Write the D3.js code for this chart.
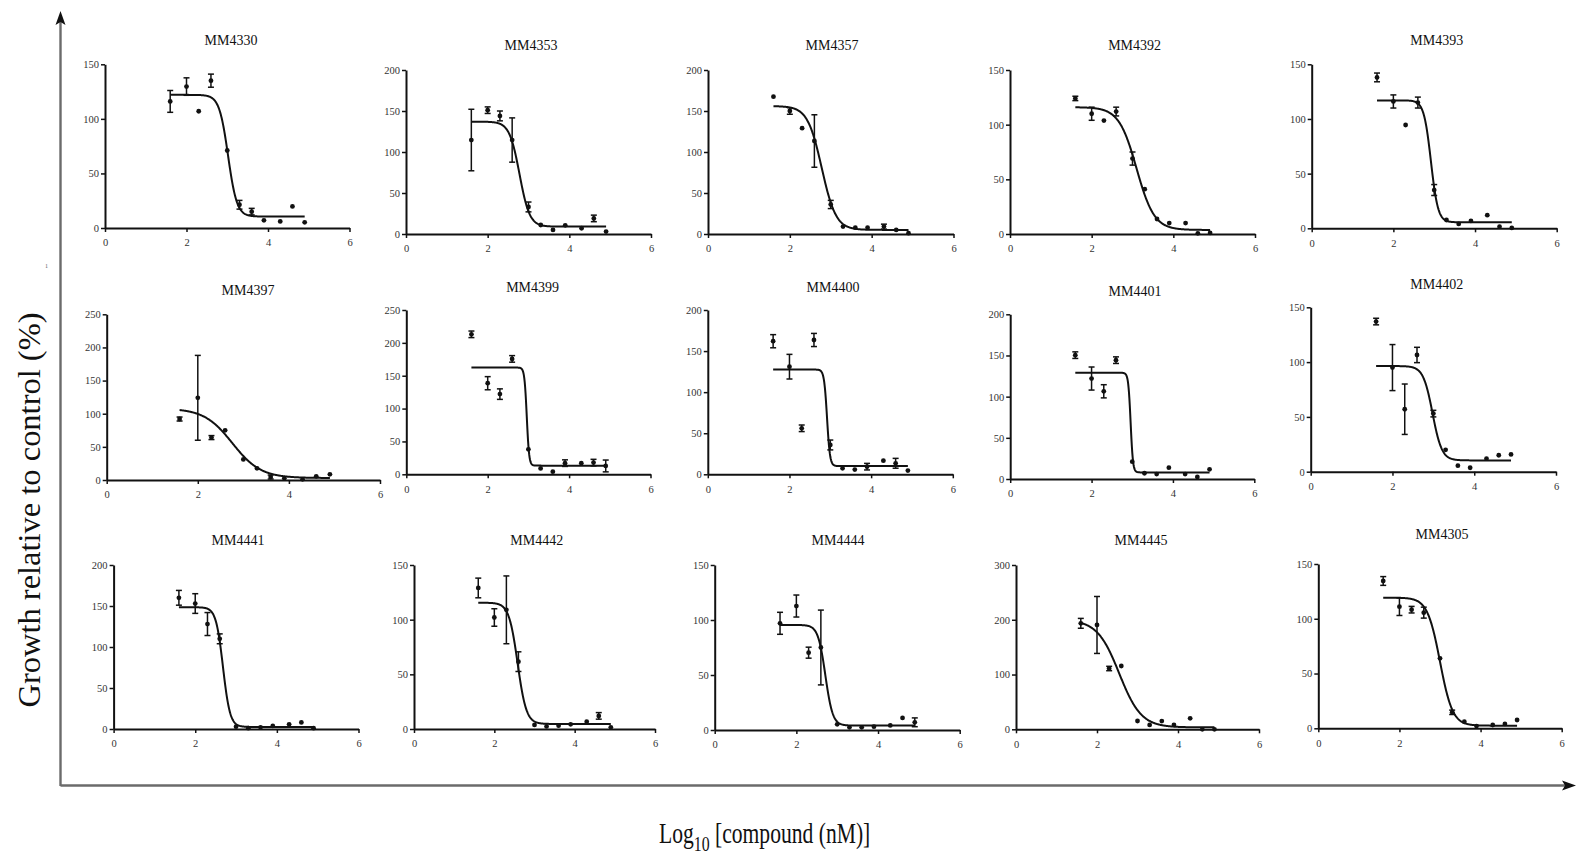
<!DOCTYPE html>
<html>
<head>
<meta charset="utf-8">
<script src="https://cdn.jsdelivr.net/npm/d3@7"></script>
<style>
  body { margin: 0; background: #fff; }
  svg { display: block; }
  text { font-family: "Liberation Serif", "Times New Roman", serif; }
</style>
</head>
<body>
<svg id="chart" width="1577" height="858"></svg>
<script>
// log10 of compound concentration (nM)
const doses = [1.6, 2.0, 2.3, 2.6, 3.0, 3.3, 3.6, 3.9, 4.3, 4.6, 4.9];
const xTicks = [0, 2, 4, 6];

const cellLines = ["MM4330", "MM4353", "MM4357", "MM4392", "MM4393",
                   "MM4397", "MM4399", "MM4400", "MM4401", "MM4402",
                   "MM4441", "MM4442", "MM4444", "MM4445", "MM4305"];

// growth relative to control (%), mean and error per dose
const MM4330 = [116, 129.6, 107, 135, 71, 21.3, 15, 7, 6, 19.8, 5.2];
const MM4330_err = [10, 8, 0, 6, 0, 4, 3, 0, 0, 0, 0];
const MM4353 = [114.6, 151, 144, 114.6, 33, 11, 5, 10.6, 7, 19, 3];
const MM4353_err = [37.5, 4, 6, 27, 6, 0, 0, 0, 0, 4, 0];
const MM4357 = [167.5, 150, 129, 113.4, 36, 9, 7.7, 7.7, 9, 5, 1];
const MM4357_err = [0, 4, 0, 32, 5, 0, 0, 0, 3, 0, 0];
const MM4392 = [124, 110, 103.7, 112, 69, 41, 13.7, 10, 10, 0.6, 1];
const MM4392_err = [2, 6, 0, 4, 6, 0, 0, 0, 0, 0, 0];
const MM4393 = [138, 116, 94.5, 115, 35, 7.6, 4, 6.7, 12, 1.5, 0.3];
const MM4393_err = [4, 6, 0, 5, 5, 0, 0, 0, 0, 0, 0];
const MM4397 = [92, 124, 64, 75, 31, 17.6, 4.5, 2.5, 1, 5.5, 8.5];
const MM4397_err = [3, 64, 3, 0, 0, 0, 3, 0, 0, 0, 0];
const MM4399 = [213, 138.6, 122, 175.6, 38, 9, 4, 17, 16.8, 17.8, 12.7];
const MM4399_err = [5, 10, 8, 5, 0, 0, 0, 5, 0, 5, 9];
const MM4400 = [162, 131, 56, 163.5, 35.7, 7.3, 5.7, 9.3, 16.6, 13.4, 4.5];
const MM4400_err = [8, 15, 4, 8, 6, 0, 0, 4, 0, 6, 0];
const MM4401 = [150.4, 122, 106.5, 144.3, 21, 7, 6, 13.8, 6, 2.4, 11.8];
const MM4401_err = [4, 14, 8, 4, 0, 0, 0, 0, 0, 0, 0];
const MM4402 = [137, 95, 57, 106.5, 53, 20, 5.5, 3.6, 11.9, 15, 15.8];
const MM4402_err = [3, 21, 23, 7, 3, 0, 0, 0, 0, 0, 0];
const MM4441 = [160, 153, 128, 110, 2.8, 1, 2, 3.7, 5.7, 8, 1];
const MM4441_err = [9, 12, 14, 6, 0, 0, 0, 0, 0, 0, 0];
const MM4442 = [129, 102, 109, 61.6, 3.7, 2.4, 3, 4.3, 6.7, 12, 1.5];
const MM4442_err = [9, 8, 31, 9, 0, 0, 0, 0, 0, 3, 0];
const MM4444 = [97, 112.7, 70.3, 75, 5.2, 2.4, 2.4, 3, 4.2, 11, 7];
const MM4444_err = [10, 10, 5, 34, 0, 0, 0, 0, 0, 0, 4];
const MM4445 = [193.5, 190.5, 111, 115.6, 15.2, 8, 15, 8, 20, 0, 0];
const MM4445_err = [9, 52, 4, 0, 0, 0, 0, 0, 0, 0, 0];
const MM4305 = [134.5, 111, 108.3, 105.6, 63.9, 14.6, 6, 2, 3, 4, 7.6];
const MM4305_err = [4, 8, 3, 5, 0, 2, 0, 0, 0, 0, 0];

const meanSeries = [MM4330, MM4353, MM4357, MM4392, MM4393, MM4397, MM4399, MM4400,
                    MM4401, MM4402, MM4441, MM4442, MM4444, MM4445, MM4305];
const errSeries = [MM4330_err, MM4353_err, MM4357_err, MM4392_err, MM4393_err,
                   MM4397_err, MM4399_err, MM4400_err, MM4401_err, MM4402_err,
                   MM4441_err, MM4442_err, MM4444_err, MM4445_err, MM4305_err];

// y axis extent and tick step per cell line
const yMax  = [150, 200, 200, 150, 150, 250, 250, 200, 200, 150, 200, 150, 150, 300, 150];
const yStep = [50, 50, 50, 50, 50, 50, 50, 50, 50, 50, 50, 50, 50, 100, 50];

// four-parameter logistic fit per cell line
const fitTop     = [122, 137, 156, 116, 117, 108, 162.4, 127.5, 129, 96.4, 148.5, 115.5, 95.5, 200, 119.3];
const fitBottom  = [10.5, 9, 5, 3.7, 5.5, 3, 13.2, 10, 8, 10.3, 2.5, 4.6, 4, 3.5, 2.4];
const fitLogIC50 = [3.02, 2.78, 2.78, 3.1, 2.92, 2.76, 2.96, 2.92, 2.96, 2.98, 2.68, 2.58, 2.71, 2.55, 3.0];
const fitHill    = [4, 3.5, 2.5, 2.0, 5, 1.4, 15, 12, 15, 3.8, 5, 4, 4.8, 1.6, 2.8];

// panel frames (pixel layout)
const frameLeft   = [105, 406, 708, 1010, 1311.7, 106.7, 406.3, 707.8, 1010.2, 1310.7, 113.6, 414, 714.7, 1016, 1318.3];
const frameRight  = [349.5, 651, 953.5, 1255, 1556.7, 380, 650.5, 952.8, 1254.3, 1556, 358.5, 655, 959.7, 1259, 1561.7];
const frameTop    = [64.3, 70, 70, 70, 64.3, 314.3, 310, 310, 314.3, 307.3, 565, 565, 565, 565, 564];
const frameBottom = [228, 234, 234, 234, 228.3, 480, 474.3, 474.3, 479, 471.7, 729, 729, 730, 729.3, 728.3];
const titleX = [231, 531, 832, 1134.6, 1436.7, 248, 532.6, 833, 1135, 1436.7, 238, 536.8, 838, 1141, 1442];
const titleY = [40, 45, 45, 45, 40, 290, 286.7, 286.7, 291, 284.3, 540, 540, 540, 540, 534.3];

const svg = d3.select("#chart");
const serif = '"Liberation Serif", "Times New Roman", serif';

// outer axis arrows
const arrowColor = "#6b6b6b";
svg.append("line")
  .attr("x1", 60.5).attr("y1", 786).attr("x2", 60.5).attr("y2", 22)
  .attr("stroke", arrowColor).attr("stroke-width", 2.4);
svg.append("line")
  .attr("x1", 60.5).attr("y1", 785.5).attr("x2", 1565).attr("y2", 785.5)
  .attr("stroke", arrowColor).attr("stroke-width", 2.4);
svg.append("path")
  .attr("d", "M60.5,11 L55.5,25 L60.5,22 L65.5,25 Z")
  .attr("fill", "#111");
svg.append("path")
  .attr("d", "M1576,785.5 L1562,780.5 L1565,785.5 L1562,790.5 Z")
  .attr("fill", "#111");

svg.append("text")
  .attr("transform", "translate(40,510) rotate(-90)")
  .attr("text-anchor", "middle")
  .attr("font-size", 31)
  .attr("textLength", 395)
  .attr("lengthAdjust", "spacingAndGlyphs")
  .attr("fill", "#111")
  .text("Growth relative to control (%)");

// condensed horizontal title with subscript
const xl = svg.append("text")
  .attr("transform", "translate(659,843) scale(0.72,1)")
  .attr("font-size", 30)
  .attr("fill", "#111");
xl.append("tspan").text("Log");
xl.append("tspan").attr("font-size", 22).attr("dy", 8).text("10");
xl.append("tspan").attr("dy", -8).text(" [compound (nM)]");

svg.append("text")
  .attr("x", 45).attr("y", 268)
  .attr("font-size", 6).attr("fill", "#666")
  .text("1");

cellLines.forEach((name, i) => {
  const x = d3.scaleLinear().domain([0, 6]).range([frameLeft[i], frameRight[i]]);
  const y = d3.scaleLinear().domain([0, yMax[i]]).range([frameBottom[i], frameTop[i]]);
  const g = svg.append("g").attr("class", "panel");

  g.append("text")
    .attr("x", titleX[i]).attr("y", titleY[i])
    .attr("dy", "0.35em")
    .attr("text-anchor", "middle")
    .attr("font-size", 14)
    .attr("fill", "#111")
    .text(name);

  const yAxis = g.append("g")
    .attr("transform", `translate(${frameLeft[i]},0)`)
    .call(d3.axisLeft(y)
      .tickValues(d3.range(0, yMax[i] + 1, yStep[i]))
      .tickFormat(d3.format("d"))
      .tickSize(4).tickSizeOuter(0).tickPadding(2));

  const xAxis = g.append("g")
    .attr("transform", `translate(0,${frameBottom[i]})`)
    .call(d3.axisBottom(x)
      .tickValues(xTicks)
      .tickFormat(d3.format("d"))
      .tickSize(4).tickSizeOuter(0).tickPadding(7));

  [yAxis, xAxis].forEach(ax => {
    ax.attr("font-family", serif).attr("font-size", 10.5);
    ax.select(".domain").attr("stroke", "#111").attr("stroke-width", 2);
    ax.selectAll(".tick line").attr("stroke", "#111").attr("stroke-width", 1.5);
    ax.selectAll(".tick text")
      .attr("font-family", serif)
      .attr("font-size", 10.5)
      .attr("fill", "#333");
  });

  // fitted dose-response curve
  const curveX = d3.range(doses[0], doses[doses.length - 1] + 0.001, 0.01);
  const logistic = v => fitBottom[i] + (fitTop[i] - fitBottom[i]) /
    (1 + Math.pow(10, (v - fitLogIC50[i]) * fitHill[i]));
  g.append("path")
    .datum(curveX)
    .attr("fill", "none")
    .attr("stroke", "#111")
    .attr("stroke-width", 2)
    .attr("d", d3.line().x(v => x(v)).y(v => y(logistic(v))));

  const pts = doses.map((d, k) => ({ d, m: meanSeries[i][k], e: errSeries[i][k] }));

  // error bars
  const eb = g.selectAll("g.err").data(pts.filter(p => p.e > 0)).join("g").attr("class", "err")
    .attr("stroke", "#111").attr("stroke-width", 1.5);
  eb.append("line")
    .attr("x1", p => x(p.d)).attr("x2", p => x(p.d))
    .attr("y1", p => y(p.m - p.e)).attr("y2", p => y(p.m + p.e));
  eb.append("line")
    .attr("x1", p => x(p.d) - 3).attr("x2", p => x(p.d) + 3)
    .attr("y1", p => y(p.m + p.e)).attr("y2", p => y(p.m + p.e));
  eb.append("line")
    .attr("x1", p => x(p.d) - 3).attr("x2", p => x(p.d) + 3)
    .attr("y1", p => y(p.m - p.e)).attr("y2", p => y(p.m - p.e));

  // means
  g.selectAll("circle").data(pts).join("circle")
    .attr("cx", p => x(p.d)).attr("cy", p => y(p.m))
    .attr("r", 2.4).attr("fill", "#111");
});
</script>
</body>
</html>
